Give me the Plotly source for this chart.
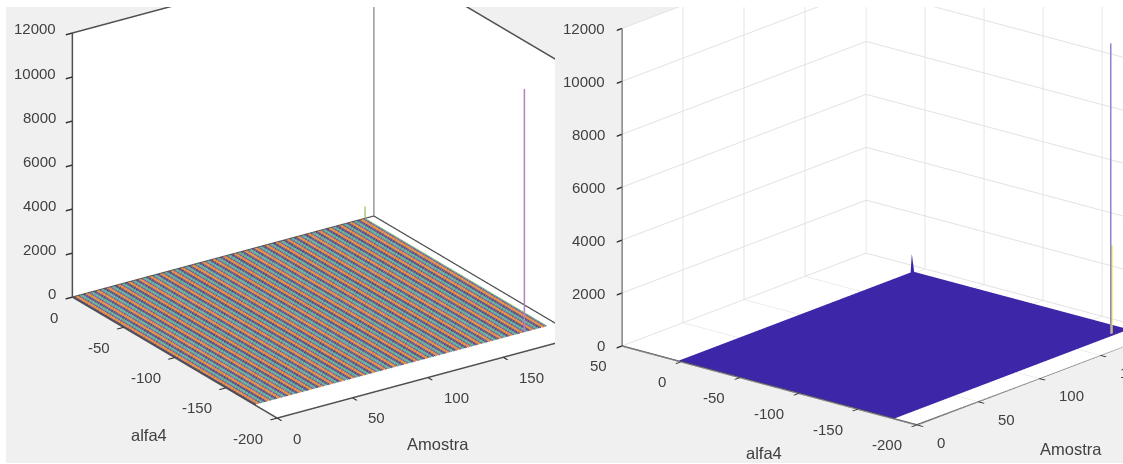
import math
import numpy as np
import plotly.graph_objects as go

# ---- data ----
amostra_left = list(range(1, 195))
alfa4_left = list(range(-178, 1))
amostra_right = list(range(0, 193))
alfa4_right = list(range(-181, 3))
# stripe colours as they appear in the picture, repeating every 7 samples
line_colors = ["#50467F", "#E0802A", "#E0842A", "#6E4A98", "#4FA880", "#50A8A0", "#5C4070"]
left_big_spike = dict(amostra=[179, 179], alfa=[-178, -178], z=[0, 11050], color="#B57EC8")
left_small_spike = dict(amostra=[194, 194], alfa=[0, 0], z=[0, 550], color="#8FC060")
right_small_spike = {(191, 2): 700}
right_big_spike = dict(amostra=[180, 180], alfa=[-178, -178], z=[0, 11000], color="#8F83D6")
right_yellow_spike = dict(amostra=[181, 181], alfa=[-178, -178], z=[0, 3350], color="#F6F02A")
surface_floor = 15
z_ticks = [0, 2000, 4000, 6000, 8000, 10000, 12000]
amostra_ticks = [0, 50, 100, 150]
alfa_ticks_left = [-200, -150, -100, -50, 0]
alfa_ticks_right = [-200, -150, -100, -50, 0, 50]

W, H = 1123, 464
GREY = "#F0F0F0"
TXT = "#404040"
EDGE = "#505050"
FONT = "Liberation Sans"

fig = go.Figure()


def line3d(scene, x, y, z, color, width):
    fig.add_trace(go.Scatter3d(x=x, y=y, z=z, mode="lines", scene=scene, line=dict(color=color, width=width),
                               hoverinfo="skip", showlegend=False))


# left: one line per sample
for a in amostra_left:
    line3d("scene", [a, a], [alfa4_left[0], alfa4_left[-1]], [0, 0], line_colors[(a - 1) % 7], 2)
line3d("scene", [amostra_left[-1]] * 2, [alfa4_left[0], alfa4_left[-1]], [0, 0], left_small_spike["color"], 1.5)
for s in (left_big_spike, left_small_spike):
    line3d("scene", s["amostra"], s["alfa"], s["z"], s["color"], 3)

# left: box edges
xr, yr, zr = (0, 200), (-200, 0), (0, 12000)
frame_x = [xr[0], xr[0], None, xr[1], xr[1], None, xr[1], xr[1], None, xr[0], xr[1], None, xr[0], xr[1], None, xr[1], xr[1], None, xr[0], xr[0], None, xr[0], xr[1]]
frame_y = [yr[1], yr[1], None, yr[1], yr[1], None, yr[1], yr[0], None, yr[1], yr[1], None, yr[1], yr[1], None, yr[1], yr[0], None, yr[1], yr[0], None, yr[0], yr[0]]
frame_z = [zr[0], zr[1], None, zr[0], zr[1], None, zr[0], zr[0], None, zr[1], zr[1], None, zr[0], zr[0], None, zr[1], zr[1], None, zr[0], zr[0], None, zr[0], zr[0]]
line3d("scene", frame_x, frame_y, frame_z, EDGE, 3)

# right: surface
Z = np.array([[right_small_spike.get((a, b), surface_floor) for a in amostra_right] for b in alfa4_right], dtype=float)
fig.add_trace(go.Surface(x=amostra_right, y=alfa4_right, z=Z, scene="scene2", showscale=False,
                         surfacecolor=np.zeros_like(Z), cmin=0, cmax=1,
                         colorscale=[[0, "#3E26A8"], [1, "#3E26A8"]],
                         lighting=dict(ambient=1, diffuse=0, specular=0, roughness=1, fresnel=0),
                         hoverinfo="skip", contours=dict(x=dict(highlight=False), y=dict(highlight=False), z=dict(highlight=False))))
for s, w in ((right_big_spike, 3), (right_yellow_spike, 3)):
    line3d("scene2", s["amostra"], s["alfa"], s["z"], s["color"], w)
# right: axis lines
rx, ry = (0, 200), (-200, 50)
line3d("scene2", [rx[0], rx[0], None, rx[0], rx[0], None, rx[0], rx[1]],
       [ry[1], ry[1], None, ry[1], ry[0], None, ry[0], ry[0]],
       [zr[0], zr[1], None, zr[0], zr[0], None, zr[0], zr[0]], EDGE, 3)


def cam(alpha, phi, L, box_center_px, dom_px, D):
    k = (dom_px[3] - dom_px[2]) / (2 * D)
    a, p = math.radians(alpha), math.radians(phi)
    eyed = (-math.sin(a) * math.cos(p), -math.cos(a) * math.cos(p), math.sin(p))
    r = (math.cos(a), -math.sin(a), 0)
    u = (math.sin(p) * math.sin(a), math.sin(p) * math.cos(a), math.cos(p))
    dx = box_center_px[0] - (dom_px[0] + dom_px[1]) / 2
    dy = (dom_px[2] + dom_px[3]) / 2 - box_center_px[1]
    c = [(-dx * r[i] - dy * u[i]) / (2 * k) for i in range(3)]
    return (dict(projection=dict(type="orthographic"), up=dict(x=0, y=0, z=1),
                 center=dict(x=c[0], y=c[1], z=c[2]),
                 eye=dict(x=c[0] + D * eyed[0], y=c[1] + D * eyed[1], z=c[2] + D * eyed[2])),
            dict(x=L[0] / (2 * k), y=L[1] / (2 * k), z=L[2] / (2 * k)))


def axis(rng, ticks, grid):
    return dict(title=dict(text=""), range=rng, tickvals=ticks, showticklabels=False,
                showgrid=grid, gridcolor="#E2E2E2",
                gridwidth=2, zeroline=False, showline=False,
                ticks="outside", ticklen=8, tickwidth=3, tickcolor="#303030", showbackground=True,
                backgroundcolor="white", showspikes=False)


def label(x, y, z, text, xanchor, xshift, yshift, size=15):
    return dict(x=x, y=y, z=z, text=text, showarrow=False, xanchor=xanchor, yanchor="middle",
                xshift=xshift, yshift=yshift, font=dict(family=FONT, size=size, color=TXT))


def annotations(alfa_ticks, back_alfa, z_dx, z_dy, alfa_dx, alfa_dy, am_dx, am_dy, t_am, t_alfa):
    out = [label(0, back_alfa, v, str(v), "right", z_dx, z_dy) for v in z_ticks]
    out += [label(0, v, 0, str(v), "right", alfa_dx, alfa_dy) for v in alfa_ticks]
    out += [label(v, -200, 0, str(v), "left", am_dx, am_dy) for v in amostra_ticks]
    out += [label(100, -200, 0, "Amostra", "center", t_am[0], t_am[1], 16.5),
            label(0, -100, 0, "alfa4", "center", t_alfa[0], t_alfa[1], 16.5)]
    return out


DIST = 2.0
dom_l = (6, 555, 7, 463)
dom_r = (555, 1123, 7, 463)
cam_l, asp_l = cam(34, 23.5, (363.6, 366, 288), (325.5, 185), dom_l, DIST)
cam_r, asp_r = cam(50, 18.6, (380, 385, 335), (622 + (244 + 295) / 2, 346 + (79 - 93) / 2 - 158.75), dom_r, DIST)


def dom(d):
    return dict(x=[d[0] / W, d[1] / W], y=[1 - d[3] / H, 1 - d[2] / H])


fig.update_layout(
    width=W, height=H, margin=dict(l=0, r=0, t=0, b=0), paper_bgcolor="white", showlegend=False,
    scene=dict(domain=dom(dom_l), bgcolor=GREY, camera=cam_l, aspectmode="manual", aspectratio=asp_l,
               xaxis=axis([0, 200], amostra_ticks, False),
               yaxis=axis([-200, 0], alfa_ticks_left, False),
               zaxis=axis([0, 12000], z_ticks, False),
               annotations=annotations(alfa_ticks_left, 0, -14, 4, -12, -20, 14, -20, (10.6, -66.5), (-26, -77.5))),
    scene2=dict(domain=dom(dom_r), bgcolor=GREY, camera=cam_r, aspectmode="manual", aspectratio=asp_r,
                xaxis=axis([0, 200], amostra_ticks, True),
                yaxis=axis([-200, 50], alfa_ticks_right, True),
                zaxis=axis([0, 12000], z_ticks, True),
                annotations=annotations(alfa_ticks_right, 50, -14.5, 0, -13, -20, 18, -17.5, (32, -70.5), (-35, -60))),
)
fig.write_html("out.html", config={"displayModeBar": False},
               post_script="document.body.style.margin='0';document.body.style.overflow='hidden';")
